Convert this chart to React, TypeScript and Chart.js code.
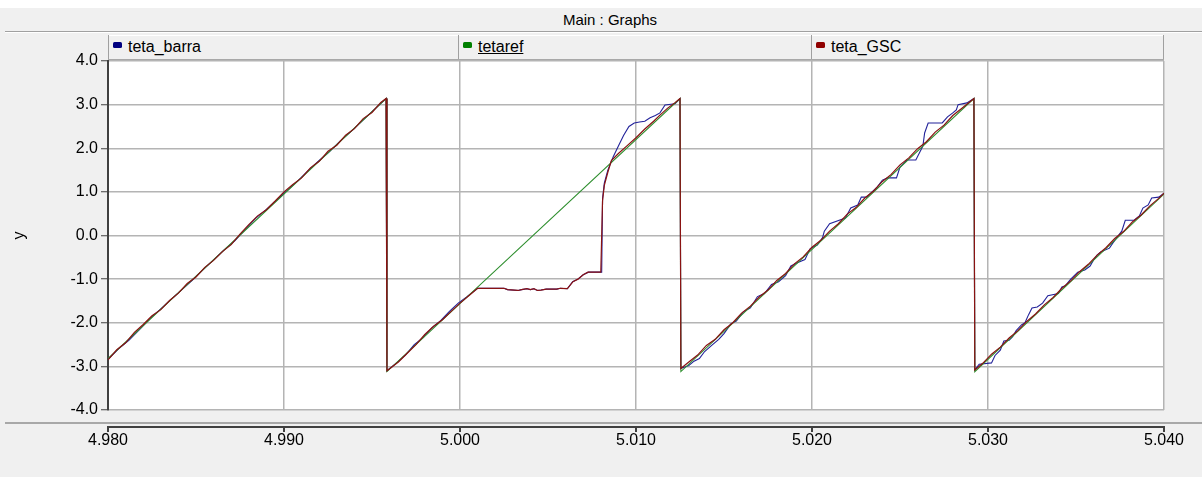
import React, { useEffect, useRef } from "react";
import { Chart, registerables } from "chart.js";

Chart.register(...registerables);

const FONT = "'Liberation Sans', Arial, sans-serif";

const panelTitle = "Main : Graphs";
const seriesNames = ["teta_barra", "tetaref", "teta_GSC"];
const lineColors = ["#22229a", "#2f8f2f", "#8a1212"];
const legendColors = ["#000080", "#008000", "#900000"];
const xTickValues = [4.98, 4.99, 5.0, 5.01, 5.02, 5.03, 5.04];
const yTickValues = [-4, -3, -2, -1, 0, 1, 2, 3, 4];
const yAxisLabel = "y";

// tetaref
const refT = [4.98, 4.9958, 4.99585, 5.0125, 5.01255, 5.0292, 5.02925, 5.04];
const refY = [-2.82, 3.14, -3.12, 3.14, -3.12, 3.14, -3.12, 0.95];

// teta_barra
const barraT = [
  4.98, 4.9806, 4.9812, 4.9818, 4.9824, 4.983, 4.9836, 4.9842, 4.9848, 4.9854, 4.986, 4.9866, 4.9872, 4.9878,
  4.9884, 4.989, 4.9896, 4.9902, 4.9908, 4.9914, 4.992, 4.9926, 4.9932, 4.9938, 4.9944, 4.995, 4.9958,
  4.99585, 4.9964, 4.9969, 4.9974, 4.9979, 4.9984, 4.9989, 4.9994, 4.9999, 5.0004, 5.001, 5.0025, 5.0027,
  5.0033, 5.0035, 5.0038, 5.004, 5.0042, 5.0044, 5.0046, 5.0049, 5.0055, 5.0057, 5.0061, 5.0064, 5.0067,
  5.007, 5.0073, 5.00805, 5.0081, 5.0082, 5.0084, 5.0087, 5.009, 5.0093, 5.0096, 5.0099, 5.0102, 5.0105,
  5.0108, 5.0111, 5.01136, 5.01165, 5.01222, 5.0125,
  5.01255, 5.013, 5.0133, 5.0136, 5.0139, 5.0143, 5.0147, 5.015, 5.0154, 5.0157, 5.0161, 5.0165, 5.0169,
  5.0173, 5.0177, 5.0181, 5.0185, 5.0188, 5.0192, 5.0196, 5.0199, 5.0203, 5.0206, 5.0207, 5.021, 5.0219,
  5.0222, 5.0226, 5.0228, 5.0231, 5.0237, 5.024, 5.0243, 5.0248, 5.025, 5.0254, 5.0259, 5.0261, 5.0263,
  5.0264, 5.0266, 5.0274, 5.0277, 5.028, 5.0282, 5.0283, 5.0288, 5.0292,
  5.02925, 5.0295, 5.0302, 5.0304, 5.0307, 5.0309, 5.0312, 5.0314, 5.0316, 5.0319, 5.0321, 5.0323, 5.0325,
  5.0328, 5.0331, 5.0334, 5.034, 5.0342, 5.0344, 5.0347, 5.0351, 5.0355, 5.0358, 5.036, 5.0362, 5.0364,
  5.0369, 5.0371, 5.0373, 5.0376, 5.0378, 5.0383, 5.0386, 5.0388, 5.0391, 5.0393, 5.0397, 5.04,
];
const barraY = [
  -2.84, -2.6, -2.4, -2.15, -1.9, -1.68, -1.46, -1.24, -1.02, -0.78, -0.56, -0.33, -0.12, 0.14,
  0.4, 0.6, 0.82, 1.04, 1.26, 1.5, 1.72, 1.93, 2.17, 2.38, 2.61, 2.84, 3.14,
  -3.1, -2.92, -2.74, -2.5, -2.34, -2.12, -1.95, -1.74, -1.55, -1.4, -1.21, -1.21, -1.24,
  -1.26, -1.24, -1.22, -1.24, -1.22, -1.26, -1.25, -1.23, -1.23, -1.21, -1.22, -1.06, -1.0,
  -0.9, -0.84, -0.84, 0.85, 1.2, 1.5, 1.8, 2.05, 2.3, 2.5, 2.58, 2.6, 2.62,
  2.7, 2.75, 2.81, 2.99, 3.02, 3.14,
  -3.05, -2.98, -2.88, -2.82, -2.66, -2.52, -2.38, -2.25, -2.02, -1.96, -1.75, -1.66, -1.4,
  -1.33, -1.12, -1.06, -0.92, -0.7, -0.62, -0.55, -0.3, -0.22, -0.05, 0.1, 0.27, 0.4,
  0.63, 0.7, 0.88, 0.88, 1.11, 1.27, 1.32, 1.32, 1.57, 1.73, 1.73, 1.89, 2.05,
  2.35, 2.58, 2.58, 2.72, 2.81, 2.88, 3.0, 3.04, 3.14,
  -3.08, -2.95, -2.92, -2.75, -2.63, -2.42, -2.4, -2.32, -2.18, -2.05, -2.0, -1.82, -1.66,
  -1.64, -1.55, -1.38, -1.33, -1.18, -1.15, -1.0, -0.84, -0.79, -0.7, -0.56, -0.45, -0.38,
  -0.29, -0.17, -0.06, 0.1, 0.35, 0.35, 0.45, 0.63, 0.7, 0.86, 0.88, 0.97,
];

// teta_GSC
const gscT = [
  4.98, 4.9805, 4.981, 4.9815, 4.982, 4.9825, 4.983, 4.9835, 4.984, 4.9845, 4.985, 4.9855, 4.986, 4.9865,
  4.987, 4.9875, 4.988, 4.9885, 4.989, 4.9895, 4.99, 4.9905, 4.991, 4.9915, 4.992, 4.9925, 4.993, 4.9935,
  4.994, 4.9945, 4.995, 4.9955, 4.9958,
  4.99585, 4.9965, 4.997, 4.9975, 4.998, 4.9985, 4.999, 4.9995, 5.0, 5.0005, 5.001, 5.0025, 5.0027, 5.0033,
  5.0035, 5.0038, 5.004, 5.0042, 5.0044, 5.0046, 5.0049, 5.0055, 5.0057, 5.0061, 5.00642, 5.0067, 5.007,
  5.00727, 5.008, 5.0081, 5.0082, 5.0084, 5.0086, 5.009, 5.0095, 5.01, 5.0105, 5.011, 5.01136, 5.0118,
  5.0122, 5.0125,
  5.01255, 5.013, 5.0135, 5.014, 5.0145, 5.015, 5.0155, 5.016, 5.0165, 5.017, 5.0175, 5.018, 5.0185, 5.019,
  5.0195, 5.02, 5.0205, 5.021, 5.0215, 5.022, 5.0225, 5.023, 5.0235, 5.024, 5.0245, 5.025, 5.0255, 5.026,
  5.0265, 5.027, 5.0275, 5.028, 5.0285, 5.0292,
  5.02925, 5.0297, 5.0302, 5.0307, 5.0312, 5.0317, 5.0322, 5.0327, 5.0332, 5.0337, 5.0342, 5.0347, 5.0352,
  5.0357, 5.0362, 5.0367, 5.0372, 5.0377, 5.0382, 5.0387, 5.0392, 5.0397, 5.04,
];
const gscY = [
  -2.85, -2.62, -2.46, -2.22, -2.04, -1.84, -1.7, -1.49, -1.32, -1.1, -0.95, -0.73, -0.57, -0.37,
  -0.21, 0.03, 0.25, 0.45, 0.59, 0.79, 1.0, 1.17, 1.32, 1.55, 1.7, 1.93, 2.07, 2.3,
  2.45, 2.68, 2.82, 3.05, 3.14,
  -3.1, -2.9, -2.7, -2.5, -2.27, -2.08, -1.93, -1.74, -1.55, -1.38, -1.21, -1.21, -1.24, -1.26,
  -1.24, -1.22, -1.24, -1.22, -1.26, -1.25, -1.23, -1.23, -1.21, -1.22, -1.06, -1.0, -0.9,
  -0.84, -0.84, 0.8, 1.15, 1.45, 1.72, 1.88, 2.06, 2.24, 2.44, 2.62, 2.76, 2.92,
  3.04, 3.14,
  -3.05, -2.9, -2.74, -2.52, -2.38, -2.16, -2.0, -1.78, -1.62, -1.41, -1.25, -1.03, -0.87, -0.65,
  -0.49, -0.27, -0.11, 0.1, 0.27, 0.49, 0.64, 0.86, 1.02, 1.24, 1.4, 1.62, 1.78, 1.99,
  2.15, 2.37, 2.53, 2.75, 2.91, 3.14,
  -3.08, -2.93, -2.72, -2.56, -2.35, -2.18, -1.97, -1.8, -1.59, -1.42, -1.21, -1.04, -0.83,
  -0.66, -0.45, -0.28, -0.07, 0.09, 0.31, 0.47, 0.68, 0.85, 0.97,
];

const toPoints = (ts: number[], ys: number[]) => ts.map((t, i) => ({ x: t, y: ys[i] }));

const framePlugin = {
  id: "pscadFrame",
  beforeDraw(chart: any) {
    const { ctx, chartArea: a } = chart;
    ctx.save();
    ctx.fillStyle = "#ffffff";
    ctx.fillRect(a.left, a.top, a.right - a.left, a.bottom - a.top);
    ctx.restore();
  },
  afterDraw(chart: any) {
    const { ctx, chartArea: a, width } = chart;
    const xs = chart.scales.x;
    ctx.save();
    // separator under plot
    ctx.fillStyle = "#a8a8a8";
    ctx.fillRect(5, a.bottom + 12, width - 5, 2);
    // detached x axis line
    ctx.fillStyle = "#404040";
    const axisY = a.bottom + 16;
    ctx.fillRect(a.left - 1, axisY, a.right - a.left + 2, 2);
    for (const v of xTickValues) {
      const px = Math.round(xs.getPixelForValue(v));
      ctx.fillRect(px - 1, axisY, 2, 6);
    }
    ctx.restore();
  },
};

export default function App() {
  const canvasRef = useRef<HTMLCanvasElement | null>(null);

  useEffect(() => {
    const canvas = canvasRef.current;
    if (!canvas) return;
    const font = { family: FONT, size: 16 };
    const chart = new Chart(canvas, {
      type: "line",
      data: {
        datasets: [
          {
            label: seriesNames[0],
            data: toPoints(barraT, barraY),
            borderColor: lineColors[0],
            borderWidth: 1.1,
            pointRadius: 0,
            tension: 0,
            order: 2,
          },
          {
            label: seriesNames[1],
            data: toPoints(refT, refY),
            borderColor: lineColors[1],
            borderWidth: 1.1,
            pointRadius: 0,
            tension: 0,
            order: 1,
          },
          {
            label: seriesNames[2],
            data: toPoints(gscT, gscY),
            borderColor: lineColors[2],
            borderWidth: 1.2,
            pointRadius: 0,
            tension: 0,
            order: 0,
          },
        ],
      },
      options: {
        animation: false,
        responsive: false,
        events: [],
        layout: { padding: { left: 0, top: 61, right: 38, bottom: 0 } },
        plugins: {
          legend: { display: false },
          tooltip: { enabled: false },
          title: { display: false },
        },
        scales: {
          x: {
            type: "linear",
            min: 4.98,
            max: 5.04,
            afterBuildTicks: (s: any) => {
              s.ticks = xTickValues.map((v) => ({ value: v }));
            },
            afterFit: (s: any) => {
              s.height = 67;
              s.paddingLeft = 0;
              s.paddingRight = 0;
            },
            ticks: {
              callback: (v: any) => Number(v).toFixed(3),
              font,
              color: "#000",
              padding: 21,
              maxRotation: 0,
              autoSkip: false,
            },
            grid: { color: "#b4b4b4", lineWidth: 1.5, drawTicks: false },
            border: { display: false },
          },
          y: {
            type: "linear",
            min: -4,
            max: 4,
            afterBuildTicks: (s: any) => {
              s.ticks = yTickValues.map((v) => ({ value: v }));
            },
            afterFit: (s: any) => {
              s.width = 108;
              s.paddingTop = 0;
              s.paddingBottom = 0;
            },
            ticks: {
              callback: (v: any) => Number(v).toFixed(1),
              font,
              color: "#000",
              padding: 3,
              autoSkip: false,
            },
            grid: {
              color: "#b4b4b4",
              lineWidth: 1.5,
              tickColor: "#404040",
              tickLength: 7,
              tickWidth: 1,
            },
            border: { display: true, color: "#404040", width: 2 },
            title: {
              display: true,
              text: yAxisLabel,
              font,
              color: "#000",
              padding: { top: 10, bottom: 0 },
            },
          },
        },
      },
      plugins: [framePlugin],
    } as any);
    return () => chart.destroy();
  }, []);

  const legendCells = [
    { left: 108, width: 350 },
    { left: 458, width: 353 },
    { left: 811, width: 353 },
  ];

  return (
    <div
      style={{
        position: "absolute",
        left: 0,
        top: 0,
        width: 1202,
        height: 477,
        background: "#ffffff",
        overflow: "hidden",
        fontFamily: FONT,
      }}
    >
      <div style={{ position: "absolute", left: 0, top: 8, width: 1202, height: 469, background: "#f0f0f0" }} />
      <div
        style={{
          position: "absolute",
          left: 0,
          top: 9,
          width: 1220,
          height: 22,
          lineHeight: "22px",
          textAlign: "center",
          fontSize: 15,
          color: "#000",
        }}
      >
        {panelTitle}
      </div>
      <div style={{ position: "absolute", left: 5, top: 31, width: 1197, height: 1, background: "#a0a0a0" }} />
      <div style={{ position: "absolute", left: 5, top: 32, width: 1197, height: 1, background: "#ffffff" }} />
      <div
        style={{
          position: "absolute",
          left: 108,
          top: 35,
          width: 1056,
          height: 23,
          borderTop: "1px solid #ffffff",
          borderBottom: "2px solid #a8a8a8",
          boxSizing: "content-box",
        }}
      />
      {legendCells.map((c, i) => (
        <div
          key={seriesNames[i]}
          style={{
            position: "absolute",
            left: c.left,
            top: 35,
            width: c.width,
            height: 24,
            borderLeft: "1px solid #a0a0a0",
            borderRight: i === 2 ? "1px solid #a0a0a0" : "none",
            boxSizing: "border-box",
          }}
        >
          <div
            style={{
              position: "absolute",
              left: 4,
              top: 7,
              width: 9,
              height: 6,
              borderRadius: 1.5,
              background: legendColors[i],
            }}
          />
          <div
            style={{
              position: "absolute",
              left: 19,
              top: 1,
              height: 22,
              lineHeight: "22px",
              fontSize: 16,
              color: "#000",
              whiteSpace: "nowrap",
              textDecoration: i === 1 ? "underline" : "none",
            }}
          >
            {seriesNames[i]}
          </div>
        </div>
      ))}
      <canvas
        ref={canvasRef}
        width={1202}
        height={477}
        style={{ position: "absolute", left: 0, top: 0, width: 1202, height: 477 }}
      />
    </div>
  );
}
